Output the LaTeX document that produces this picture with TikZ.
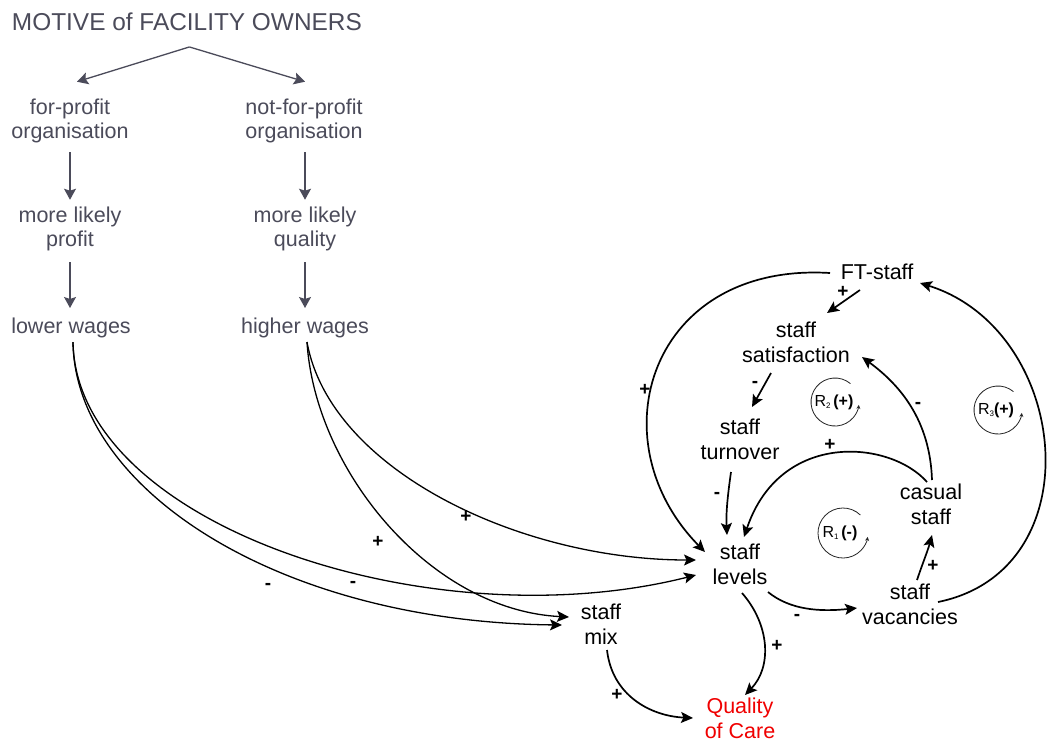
\documentclass[tikz,border=0pt]{standalone}
\usepackage{fontspec}
\setmainfont{Liberation Sans}
\usetikzlibrary{arrows.meta,calc}
\definecolor{motivegray}{RGB}{75,75,90}
\definecolor{qred}{RGB}{240,0,0}

\begin{document}
\begin{tikzpicture}[x=1pt,y=-1pt,
  every node/.style={inner sep=0pt, outer sep=0pt},
  grey text/.style={text=motivegray, align=center, font=\fontsize{21.5}{23.5}\selectfont},
  var/.style={text=black, align=center, font=\fontsize{21.5}{25}\selectfont},
  polarity/.style={text=black, font=\fontsize{19}{19}\selectfont\bfseries},
  grey arrow/.style={draw=motivegray, line width=1.3pt, -{Stealth[length=11pt,width=12pt,inset=2pt]}},
  cld link/.style={draw=black, line width=1.7pt, -{Stealth[length=12pt,width=11pt,inset=2.5pt]}},
  wage link/.style={draw=black, line width=1.3pt, -{Stealth[length=12pt,width=11pt,inset=2.5pt]}},
  loop mark/.style={draw=black!85, line width=0.8pt, -{Stealth[length=4pt,width=4pt]}},
  loop label/.style={text=black, font=\fontsize{16}{16}\selectfont}
]
\useasboundingbox (0,0) rectangle (1051,742);
\fill[white] (0,0) rectangle (1051,742);

% ---- ownership motive chain
\node[grey text, anchor=west, font=\fontsize{24.4}{28}\selectfont] (motive) at (12,22) {MOTIVE of FACILITY OWNERS};
\node[grey text] (fp)  at (70,121)  {for-profit\\organisation};
\node[grey text] (nfp) at (304,121) {not-for-profit\\organisation};
\node[grey text] (mlp) at (70,229)  {more likely\\profit};
\node[grey text] (mlq) at (305,229) {more likely\\quality};
\node[grey text] (lw)  at (71,327.5)  {lower wages};
\node[grey text] (hw)  at (305,327.5) {higher wages};

\draw[grey arrow] ($(motive.south)+(2.5,16)$) -- ($(fp.north)+(7,-17.5)$);
\draw[grey arrow] ($(motive.south)+(2.5,16)$) -- ($(nfp.north)+(1,-17.5)$);
\draw[grey arrow] ($(fp.south)+(0,9.5)$) -- ($(mlp.north)+(0,-7.5)$);
\draw[grey arrow] ($(nfp.south)+(1,9.5)$) -- ($(mlq.north)+(0,-7.5)$);
\draw[grey arrow] ($(mlp.south)+(0,11.5)$) -- ($(lw.north)+(-1,-9.5)$);
\draw[grey arrow] ($(mlq.south)+(0,11.5)$) -- ($(hw.north)+(0,-9.5)$);

% ---- staffing variables
\node[var] (ft)   at (877,272)   {FT-staff};
\node[var] (sat)  at (796,342.6) {staff\\satisfaction};
\node[var] (turn) at (740,439.7) {staff\\turnover};
\node[var] (cas)  at (931,504.7) {casual\\staff};
\node[var] (lvl)  at (740,564.7) {staff\\levels};
\node[var] (vac)  at (910,604.7) {staff\\vacancies};
\node[var] (mix)  at (601,624.6) {staff\\mix};
\node[var, text=qred] (qoc) at (740,718) {Quality\\of Care};

% ---- wage effects
\draw[wage link] ($(lw.south)+(2,4.5)$) .. controls (76,525) and (430,642) .. ($(lvl)+(-44,10.3)$);
\draw[wage link] ($(lw.south)+(2,4.5)$) .. controls (75,490) and (280,622) .. ($(mix)+(-39,0.4)$);
\draw[wage link] ($(hw.south)+(2,4.5)$) .. controls (330,470) and (520,560) .. ($(lvl)+(-44,-4.7)$);
\draw[wage link] ($(hw.south)+(2,4.5)$) .. controls (315,470) and (430,610) .. ($(mix)+(-32,-7.6)$);

\node[polarity] (p1) at (268,586) {-};
\node[polarity] (p2) at (353,584) {-};
\node[polarity] (p3) at (378,542) {+};
\node[polarity] (p4) at (466,517) {+};

% ---- feedback structure
\draw[cld link] ($(ft)+(-17,18)$) -- ($(sat)+(31,-29.6)$);
\draw[cld link] ($(sat)+(-25,30.4)$) -- ($(turn)+(12,-32.7)$);
\draw[cld link] ($(turn)+(-9,32.3)$) .. controls (727,500) and (726,515) .. ($(lvl)+(-13,-29.7)$);
\draw[cld link] ($(ft)+(-47,1)$) .. controls (650,262) and (595,440) .. ($(lvl)+(-35,-12.7)$);
\draw[cld link] ($(cas)+(-4,-22.7)$) .. controls (890,440) and (780,430) .. ($(lvl)+(4,-27.7)$);
\draw[cld link] ($(cas)+(1,-24.7)$) .. controls (930,420) and (900,385) .. ($(sat)+(66,14.4)$);
\draw[cld link] ($(vac)+(7,-24.7)$) .. controls (922,565) and (928,550) .. ($(cas)+(1,30.3)$);
\draw[cld link] ($(lvl)+(28,27.3)$) .. controls (790,610) and (820,612) .. ($(vac)+(-53,3.3)$);
\draw[cld link] ($(vac)+(28,-2.7)$) .. controls (1095,570) and (1070,330) .. ($(ft)+(43,11)$);
\draw[cld link] ($(lvl)+(2,28.3)$) .. controls (770,625) and (772,667) .. ($(qoc)+(5,-23)$);
\draw[cld link] ($(mix)+(6,25.4)$) .. controls (612,695) and (650,716) .. ($(qoc)+(-47,0)$);

\node[polarity] (q1)  at (843,292) {+};
\node[polarity] (q2)  at (755,384) {-};
\node[polarity] (q3)  at (717,495) {-};
\node[polarity] (q4)  at (645,390) {+};
\node[polarity] (q5)  at (830,445) {+};
\node[polarity] (q6)  at (918,405) {-};
\node[polarity] (q7)  at (933,566) {+};
\node[polarity] (q8)  at (797,617) {-};
\node[polarity] (q9)  at (777,646) {+};
\node[polarity] (q10) at (617,695) {+};

% ---- loop markers
\draw[loop mark] (835,402) ++(-50:24) arc[start angle=-50, end angle=-353, radius=24];
\node[loop label] (r2) at (834,402) {R\raisebox{-2.5pt}{\fontsize{8}{8}\selectfont 2}\,\textbf{(+)}};
\draw[loop mark] (843,533) ++(-46:25) arc[start angle=-46, end angle=-351, radius=25];
\node[loop label] (r1) at (840,533) {R\raisebox{-2.5pt}{\fontsize{8}{8}\selectfont 1}\,\textbf{(-)}};
\draw[loop mark] (998,410) ++(-50:24) arc[start angle=-50, end angle=-353, radius=24];
\node[loop label] (r3) at (996,410) {R\raisebox{-2.5pt}{\fontsize{8}{8}\selectfont 3}\textbf{(+)}};
\end{tikzpicture}
\end{document}
